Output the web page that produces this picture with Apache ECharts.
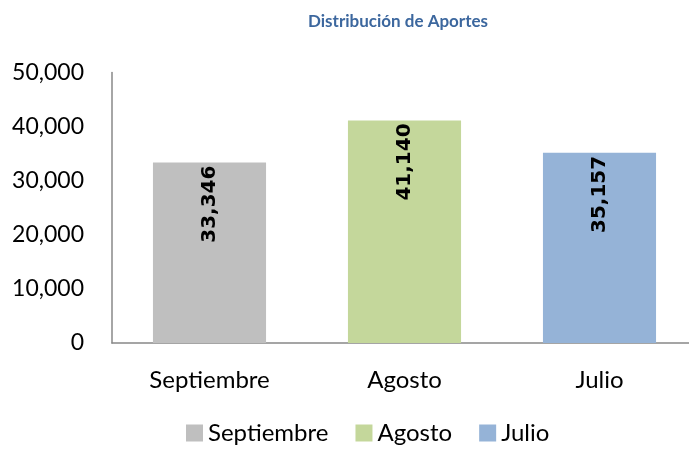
<!doctype html>
<html>
    <head>
        <meta charset="utf-8">
        <style>
            html, body { margin: 0; padding: 0; background: #fff; }
            #main { width: 689px; height: 451px; }
        </style>
    </head>
    <body>
        <div id="main"></div>
        <script src="https://cdn.jsdelivr.net/npm/echarts@6/dist/echarts.min.js"></script>
        <script>
            var chart = echarts.init(document.getElementById('main'));

            var categories = ['Septiembre', 'Agosto', 'Julio'];
            var values = [33346, 41140, 35157];
            var colors = ['#bfbfbf', '#c4d79b', '#95b3d7'];
            var yTicks = { min: 0, max: 50000, interval: 10000 };

            var font = 'Lato';

            function fmt(v) {
                return String(v).replace(/\B(?=(\d{3})+(?!\d))/g, ',');
            }

            var series = categories.map(function (name, i) {
                return {
                    name: name,
                    type: 'bar',
                    stack: 'all',
                    barWidth: '58%',
                    itemStyle: { color: colors[i] },
                    data: categories.map(function (c, j) { return j === i ? values[i] : '-'; }),
                    label: {
                        show: true,
                        position: 'insideTop',
                        rotate: 90,
                        align: 'right',
                        verticalAlign: 'middle',
                        distance: 3,
                        color: '#000',
                        fontFamily: 'DejaVu Sans',
                        fontWeight: 'bold',
                        fontSize: 20,
                        formatter: function (p) { return fmt(p.value); }
                    }
                };
            });

            chart.setOption({
                animation: false,
                title: {
                    text: 'Distribución de Aportes',
                    left: 303,
                    top: 8,
                    textStyle: {
                        color: '#3c679e',
                        fontFamily: font,
                        fontWeight: 'bold',
                        fontSize: 17
                    }
                },
                legend: {
                    top: 416,
                    left: 181,
                    icon: 'rect',
                    itemWidth: 17,
                    itemHeight: 17,
                    itemGap: 27,
                    textStyle: { color: '#000', fontFamily: font, fontSize: 24 },
                    data: categories
                },
                grid: {
                    left: 112,
                    top: 72.5,
                    bottom: 108,
                    width: 585,
                    outerBoundsMode: 'none'
                },
                xAxis: {
                    type: 'category',
                    data: categories,
                    axisLine: { lineStyle: { color: '#888', width: 1.5 } },
                    axisTick: { show: false },
                    axisLabel: { color: '#000', fontFamily: font, fontSize: 24, margin: 25 }
                },
                yAxis: {
                    type: 'value',
                    min: yTicks.min,
                    max: yTicks.max,
                    interval: yTicks.interval,
                    splitLine: { show: false },
                    axisLine: { show: true, lineStyle: { color: '#888', width: 1.5 } },
                    axisTick: { show: false },
                    axisLabel: { color: '#000', fontFamily: font, fontSize: 23, margin: 28, formatter: fmt }
                },
                series: series
            });

            window.onresize = chart.resize;
        </script>
    </body>
</html>
